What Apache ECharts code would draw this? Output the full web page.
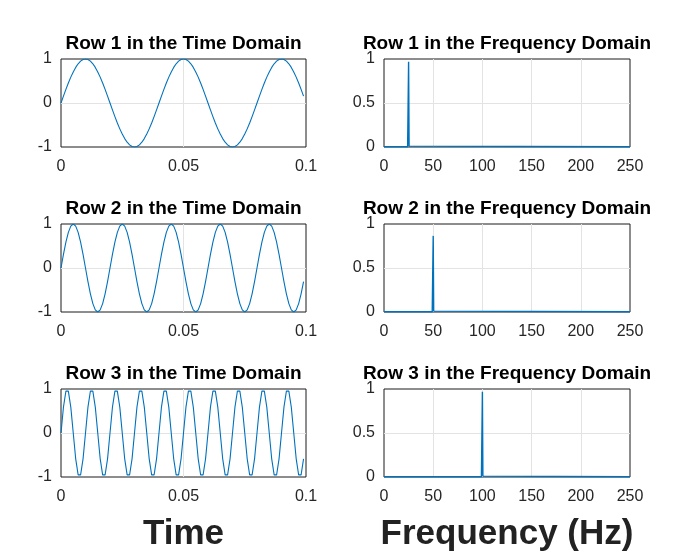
<!DOCTYPE html>
<html>
<head>
<meta charset="utf-8">
<script src="https://cdn.jsdelivr.net/npm/echarts@6/dist/echarts.min.js"></script>
<style>html,body{margin:0;padding:0;background:#fff}#c{width:680px;height:552px}</style>
</head>
<body>
<div id="c"></div>
<script>
// Time samples (s)
var timeSec = [0,0.001,0.002,0.003,0.004,0.005,0.006,0.007,0.008,0.009,
0.010,0.011,0.012,0.013,0.014,0.015,0.016,0.017,0.018,0.019,
0.020,0.021,0.022,0.023,0.024,0.025,0.026,0.027,0.028,0.029,
0.030,0.031,0.032,0.033,0.034,0.035,0.036,0.037,0.038,0.039,
0.040,0.041,0.042,0.043,0.044,0.045,0.046,0.047,0.048,0.049,
0.050,0.051,0.052,0.053,0.054,0.055,0.056,0.057,0.058,0.059,
0.060,0.061,0.062,0.063,0.064,0.065,0.066,0.067,0.068,0.069,
0.070,0.071,0.072,0.073,0.074,0.075,0.076,0.077,0.078,0.079,
0.080,0.081,0.082,0.083,0.084,0.085,0.086,0.087,0.088,0.089,
0.090,0.091,0.092,0.093,0.094,0.095,0.096,0.097,0.098,0.099];

// Row 1 signal (25 Hz)
var row1Time = [0,0.156,0.309,0.454,0.588,0.707,0.809,0.891,0.951,0.988,1,0.988,0.951,0.891,0.809,0.707,0.588,0.454,0.309,0.156,
0,-0.156,-0.309,-0.454,-0.588,-0.707,-0.809,-0.891,-0.951,-0.988,-1,-0.988,-0.951,-0.891,-0.809,-0.707,-0.588,-0.454,-0.309,-0.156,
0,0.156,0.309,0.454,0.588,0.707,0.809,0.891,0.951,0.988,1,0.988,0.951,0.891,0.809,0.707,0.588,0.454,0.309,0.156,
0,-0.156,-0.309,-0.454,-0.588,-0.707,-0.809,-0.891,-0.951,-0.988,-1,-0.988,-0.951,-0.891,-0.809,-0.707,-0.588,-0.454,-0.309,-0.156,
0,0.156,0.309,0.454,0.588,0.707,0.809,0.891,0.951,0.988,1,0.988,0.951,0.891,0.809,0.707,0.588,0.454,0.309,0.156];

// Row 2 signal (50 Hz)
var row2Time = [0,0.309,0.588,0.809,0.951,1,0.951,0.809,0.588,0.309,0,-0.309,-0.588,-0.809,-0.951,-1,-0.951,-0.809,-0.588,-0.309,
0,0.309,0.588,0.809,0.951,1,0.951,0.809,0.588,0.309,0,-0.309,-0.588,-0.809,-0.951,-1,-0.951,-0.809,-0.588,-0.309,
0,0.309,0.588,0.809,0.951,1,0.951,0.809,0.588,0.309,0,-0.309,-0.588,-0.809,-0.951,-1,-0.951,-0.809,-0.588,-0.309,
0,0.309,0.588,0.809,0.951,1,0.951,0.809,0.588,0.309,0,-0.309,-0.588,-0.809,-0.951,-1,-0.951,-0.809,-0.588,-0.309,
0,0.309,0.588,0.809,0.951,1,0.951,0.809,0.588,0.309,0,-0.309,-0.588,-0.809,-0.951,-1,-0.951,-0.809,-0.588,-0.309];

// Row 3 signal (100 Hz)
var row3Time = [0,0.588,0.951,0.951,0.588,0,-0.588,-0.951,-0.951,-0.588,
0,0.588,0.951,0.951,0.588,0,-0.588,-0.951,-0.951,-0.588,
0,0.588,0.951,0.951,0.588,0,-0.588,-0.951,-0.951,-0.588,
0,0.588,0.951,0.951,0.588,0,-0.588,-0.951,-0.951,-0.588,
0,0.588,0.951,0.951,0.588,0,-0.588,-0.951,-0.951,-0.588,
0,0.588,0.951,0.951,0.588,0,-0.588,-0.951,-0.951,-0.588,
0,0.588,0.951,0.951,0.588,0,-0.588,-0.951,-0.951,-0.588,
0,0.588,0.951,0.951,0.588,0,-0.588,-0.951,-0.951,-0.588,
0,0.588,0.951,0.951,0.588,0,-0.588,-0.951,-0.951,-0.588,
0,0.588,0.951,0.951,0.588,0,-0.588,-0.951,-0.951,-0.588];

// Spectra (Hz, magnitude)
var freq1 = [0, 24, 24.5, 25, 25.5, 26, 250];
var mag1  = [0.003, 0.003, 0.01, 0.97, 0.01, 0.003, 0.003];
var freq2 = [0, 49, 49.5, 50, 50.5, 51, 250];
var mag2  = [0.003, 0.003, 0.01, 0.865, 0.01, 0.003, 0.003];
var freq3 = [0, 99, 99.5, 100, 100.5, 101, 250];
var mag3  = [0.003, 0.003, 0.01, 0.97, 0.01, 0.003, 0.003];

var timeTicks = [0, 0.05, 0.1];
var timeAmpTicks = [-1, 0, 1];
var freqTicks = [0, 50, 100, 150, 200, 250];
var freqAmpTicks = [0, 0.5, 1];

var rowTitlesTime = ['Row 1 in the Time Domain','Row 2 in the Time Domain','Row 3 in the Time Domain'];
var rowTitlesFreq = ['Row 1 in the Frequency Domain','Row 2 in the Frequency Domain','Row 3 in the Frequency Domain'];

var timeRows = [row1Time, row2Time, row3Time];
var freqRows = [[freq1, mag1], [freq2, mag2], [freq3, mag3]];

var tops = [59, 224, 389];
var H = 88;
var LEFT_L = 61, LEFT_W = 245, RIGHT_L = 384, RIGHT_W = 246;
var txt = '#262626';
var blue = '#0072BD';
var font = 'Liberation Sans, Arial, sans-serif';

var grids = [], xAxes = [], yAxes = [], series = [], titles = [];

function zip(a, b) { var o = []; for (var i = 0; i < a.length; i++) o.push([a[i], b[i]]); return o; }

function axisCommon(extra, margin) {
  var base = {
    axisLine: { show: false },
    axisTick: { show: false },
    splitLine: { show: true, showMinLine: false, showMaxLine: false, lineStyle: { color: '#e3e3e3', width: 1 } },
    axisLabel: { color: txt, fontSize: 16, fontFamily: font, margin: margin }
  };
  for (var k in extra) base[k] = extra[k];
  return base;
}

for (var r = 0; r < 3; r++) {
  // time panel
  var gi = grids.length;
  grids.push({ left: LEFT_L, top: tops[r], width: LEFT_W, height: H, show: true, borderColor: '#1a1a1a', borderWidth: 1, backgroundColor: '#fff', containLabel: false });
  xAxes.push(axisCommon({ type: 'value', gridIndex: gi, min: timeTicks[0], max: timeTicks[timeTicks.length-1], interval: timeTicks[1]-timeTicks[0] }, 12));
  yAxes.push(axisCommon({ type: 'value', gridIndex: gi, min: timeAmpTicks[0], max: timeAmpTicks[timeAmpTicks.length-1], interval: timeAmpTicks[1]-timeAmpTicks[0] }, 9));
  series.push({ type: 'line', xAxisIndex: gi, yAxisIndex: gi, data: zip(timeSec, timeRows[r]), showSymbol: false, lineStyle: { color: blue, width: 1.1 }, animation: false, z: 3 });
  titles.push({ text: rowTitlesTime[r], left: LEFT_L + LEFT_W/2, top: tops[r] - 25, padding: 0, textAlign: 'center', textStyle: { fontSize: 19, fontWeight: 'bold', color: '#000', fontFamily: font } });

  // freq panel
  gi = grids.length;
  grids.push({ left: RIGHT_L, top: tops[r], width: RIGHT_W, height: H, show: true, borderColor: '#1a1a1a', borderWidth: 1, backgroundColor: '#fff', containLabel: false });
  xAxes.push(axisCommon({ type: 'value', gridIndex: gi, min: freqTicks[0], max: freqTicks[freqTicks.length-1], interval: freqTicks[1]-freqTicks[0] }, 12));
  yAxes.push(axisCommon({ type: 'value', gridIndex: gi, min: freqAmpTicks[0], max: freqAmpTicks[freqAmpTicks.length-1], interval: freqAmpTicks[1]-freqAmpTicks[0] }, 9));
  series.push({ type: 'line', xAxisIndex: gi, yAxisIndex: gi, data: zip(freqRows[r][0], freqRows[r][1]), showSymbol: false, lineStyle: { color: blue, width: 1.4 }, animation: false, z: 3 });
  titles.push({ text: rowTitlesFreq[r], left: RIGHT_L + RIGHT_W/2, top: tops[r] - 25, padding: 0, textAlign: 'center', textStyle: { fontSize: 19, fontWeight: 'bold', color: '#000', fontFamily: font } });
}

titles.push({ text: 'Time', left: LEFT_L + LEFT_W/2, top: 517, padding: 0, textAlign: 'center', textStyle: { fontSize: 35, fontWeight: 'bold', color: '#222', fontFamily: font } });
titles.push({ text: 'Frequency (Hz)', left: RIGHT_L + RIGHT_W/2, top: 517, padding: 0, textAlign: 'center', textStyle: { fontSize: 35, fontWeight: 'bold', color: '#222', fontFamily: font } });

var chart = echarts.init(document.getElementById('c'), null, { renderer: 'canvas' });
chart.setOption({
  backgroundColor: '#fff',
  animation: false,
  title: titles,
  grid: grids,
  xAxis: xAxes,
  yAxis: yAxes,
  series: series
});
</script>
</body>
</html>
